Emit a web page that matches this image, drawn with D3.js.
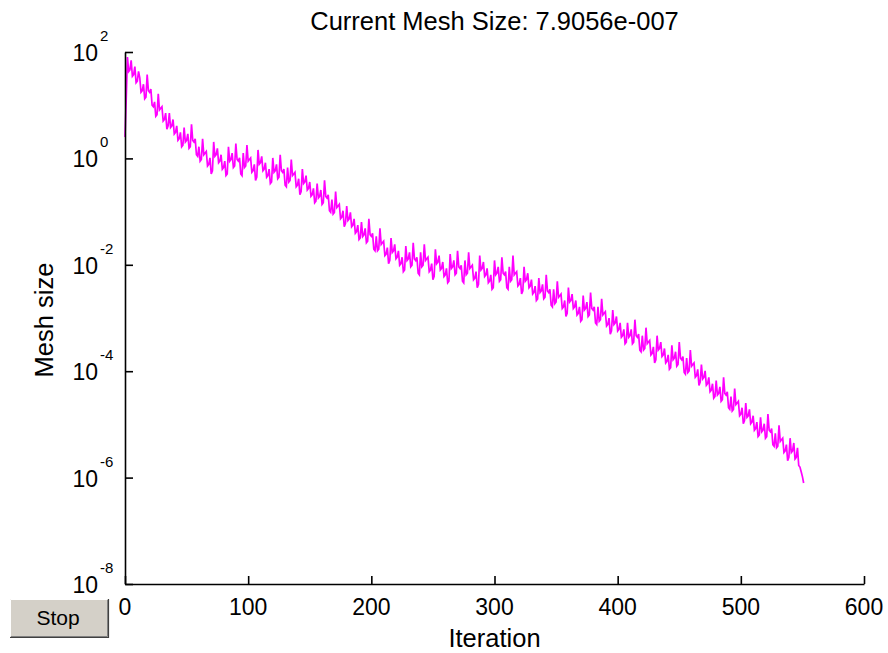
<!DOCTYPE html>
<html><head><meta charset="utf-8">
<script src="https://cdn.jsdelivr.net/npm/d3@7"></script>
<style>
body{margin:0;background:#fff}
svg{display:block}
text{font-family:"Liberation Sans",Arial,Helvetica,sans-serif;fill:#000}
</style>
</head><body>
<svg id="chart" width="888" height="653"></svg>
<script>
// ---- data ----
const titleText = "Current Mesh Size: 7.9056e-007";
const xLabelText = "Iteration";
const yLabelText = "Mesh size";
const buttonText = "Stop";
const xTickValues = [0, 100, 200, 300, 400, 500, 600];
const yTickExponents = [2, 0, -2, -4, -6, -8];
const meshUnit = 0.82896; // mesh size at exponent 0 (final value = unit * 2^-20 = 7.9056e-7)
// mesh size per iteration, as base-2 exponents relative to meshUnit (iteration = index), 12 per row
const meshExponent = [
  1.6, 4.0, 6.6, 5.7, 5.8, 6.4, 5.4, 5.5, 6.0, 5.0, 5.1, 5.7,
  5.3, 4.4, 4.5, 4.9, 4.0, 4.1, 5.5, 4.5, 4.4, 4.6, 3.6, 3.5,
  3.8, 2.9, 3.0, 4.3, 3.3, 3.4, 3.5, 2.6, 2.7, 3.1, 2.1, 2.3,
  3.1, 2.2, 2.3, 2.7, 1.8, 1.9, 2.3, 1.4, 1.5, 1.9, 1.0, 1.1,
  2.2, 1.3, 1.4, 1.8, 0.9, 1.0, 2.4, 1.4, 1.3, 1.5, 0.5, 0.4,
  1.0, 0.1, 0.2, 1.5, 0.5, 0.6, 0.7, -0.2, -0.1, 0.3, -0.7, -0.5,
  1.3, 0.4, 0.5, 0.9, 0.0, 0.1, 0.5, -0.4, -0.3, 0.1, -0.8, -0.7,
  1.0, 0.1, 0.2, 0.6, -0.3, -0.2, 1.2, 0.2, 0.1, 0.3, -0.7, -0.8,
  0.6, -0.3, -0.2, 1.1, 0.1, 0.2, 0.3, -0.6, -0.5, -0.1, -1.1, -0.9,
  0.8, -0.1, 0.0, 0.4, -0.5, -0.4, 0.0, -0.9, -0.8, -0.4, -1.3, -1.2,
  0.3, -0.6, -0.5, -0.1, -1.0, -0.9, 0.5, -0.5, -0.6, -0.4, -1.4, -1.5,
  -0.3, -1.2, -1.1, 0.2, -0.8, -0.7, -0.6, -1.5, -1.4, -1.0, -2.0, -1.8,
  -0.4, -1.3, -1.2, -0.8, -1.7, -1.6, -1.2, -2.1, -2.0, -1.6, -2.5, -2.4,
  -1.3, -2.2, -2.1, -1.7, -2.6, -2.5, -1.1, -2.1, -2.2, -2.0, -3.0, -3.1,
  -2.3, -3.2, -3.1, -1.8, -2.8, -2.7, -2.6, -3.5, -3.4, -3.0, -4.0, -3.8,
  -2.7, -3.6, -3.5, -3.1, -4.0, -3.9, -3.5, -4.4, -4.3, -3.9, -4.8, -4.7,
  -3.7, -4.6, -4.5, -4.1, -5.0, -4.9, -3.5, -4.5, -4.6, -4.4, -5.4, -5.5,
  -4.6, -5.5, -5.4, -4.1, -5.1, -5.0, -4.9, -5.8, -5.7, -5.3, -6.3, -6.1,
  -4.7, -5.6, -5.5, -5.1, -6.0, -5.9, -5.5, -6.4, -6.3, -5.9, -6.8, -6.7,
  -5.2, -6.1, -6.0, -5.6, -6.5, -6.4, -5.0, -6.0, -6.1, -5.9, -6.9, -7.0,
  -5.6, -6.5, -6.4, -5.1, -6.1, -6.0, -5.9, -6.8, -6.7, -6.3, -7.3, -7.1,
  -5.4, -6.3, -6.2, -5.8, -6.7, -6.6, -6.2, -7.1, -7.0, -6.6, -7.5, -7.4,
  -5.7, -6.6, -6.5, -6.1, -7.0, -6.9, -5.5, -6.5, -6.6, -6.4, -7.4, -7.5,
  -6.1, -7.0, -6.9, -5.6, -6.6, -6.5, -6.4, -7.3, -7.2, -6.8, -7.8, -7.6,
  -5.8, -6.7, -6.6, -6.2, -7.1, -7.0, -6.6, -7.5, -7.4, -7.0, -7.9, -7.8,
  -6.1, -7.0, -6.9, -6.5, -7.4, -7.3, -5.9, -6.9, -7.0, -6.8, -7.8, -7.9,
  -6.5, -7.4, -7.3, -5.8, -7.0, -6.9, -6.8, -7.7, -7.6, -7.2, -8.2, -8.0,
  -6.5, -7.4, -7.3, -6.9, -7.8, -7.7, -7.3, -8.2, -8.1, -7.7, -8.6, -8.5,
  -7.2, -8.1, -8.0, -7.6, -8.5, -8.4, -7.0, -8.0, -8.1, -7.9, -8.9, -9.0,
  -7.9, -8.8, -8.7, -7.4, -8.4, -8.3, -8.2, -9.1, -9.0, -8.6, -9.6, -9.4,
  -7.8, -8.7, -8.6, -8.2, -9.1, -9.0, -8.6, -9.5, -9.4, -9.0, -9.9, -9.8,
  -8.3, -9.2, -9.1, -8.7, -9.6, -9.5, -8.1, -9.1, -9.2, -9.0, -10.0, -10.1,
  -9.0, -9.9, -9.8, -8.5, -9.5, -9.4, -9.3, -10.2, -10.1, -9.7, -10.7, -10.5,
  -9.2, -10.1, -10.0, -9.6, -10.5, -10.4, -10.0, -10.9, -10.8, -10.4, -11.3, -11.2,
  -10.0, -10.9, -10.8, -10.4, -11.3, -11.2, -9.8, -10.8, -10.9, -10.7, -11.7, -11.8,
  -10.8, -11.7, -11.6, -10.3, -11.3, -11.2, -11.1, -12.0, -11.9, -11.5, -12.5, -12.3,
  -10.8, -11.7, -11.6, -11.2, -12.1, -12.0, -11.6, -12.5, -12.4, -12.0, -12.9, -12.8,
  -11.4, -12.3, -12.2, -11.8, -12.7, -12.6, -11.2, -12.2, -12.3, -12.1, -13.1, -13.2,
  -12.2, -13.1, -13.0, -11.7, -12.7, -12.6, -12.5, -13.4, -13.3, -12.9, -13.9, -13.7,
  -12.6, -13.5, -13.4, -13.0, -13.9, -13.8, -13.4, -14.3, -14.2, -13.8, -14.7, -14.6,
  -13.6, -14.5, -14.4, -14.0, -14.9, -14.8, -13.4, -14.4, -14.5, -14.3, -15.3, -15.4,
  -14.6, -15.5, -15.4, -14.1, -15.1, -15.0, -14.9, -15.8, -15.7, -15.3, -16.3, -16.1,
  -15.0, -15.9, -15.8, -15.4, -16.3, -16.2, -15.8, -16.7, -16.6, -16.2, -17.1, -17.0,
  -15.9, -16.8, -16.7, -16.3, -17.2, -17.1, -15.7, -16.7, -16.8, -16.6, -17.6, -17.7,
  -16.9, -17.8, -17.7, -16.4, -17.4, -17.3, -17.2, -18.1, -18.0, -17.6, -18.6, -18.4,
  -17.2, -18.1, -18.0, -17.5, -18.5, -18.4, -17.8, -18.9, -19.0, -19.3, -19.6, -20.0
];
const meshSize = meshExponent.map(e => meshUnit * Math.pow(2, e));

// ---- layout ----
const svg = d3.select("#chart");
const plot = {left: 125, right: 864, top: 52, bottom: 584};

const x = d3.scaleLinear().domain([0, 600]).range([plot.left, plot.right]);
const y = d3.scaleLog().domain([1e-8, 1e2]).range([plot.bottom, plot.top]);

// line
const line = d3.line()
  .x((d, i) => x(i))
  .y(d => y(d));
svg.append("path")
  .datum(meshSize)
  .attr("fill", "none")
  .attr("stroke", "#ff00ff")
  .attr("stroke-width", 1.7)
  .attr("d", line);

// axes
const xAxis = d3.axisBottom(x).tickValues(xTickValues).tickSizeInner(-8).tickSizeOuter(0).tickFormat("");
const yAxis = d3.axisLeft(y).tickValues(yTickExponents.map(e => Math.pow(10, e))).tickSizeInner(-8).tickSizeOuter(0).tickFormat("");

const gx = svg.append("g").attr("transform", `translate(0,${plot.bottom})`).call(xAxis);
const gy = svg.append("g").attr("transform", `translate(${plot.left},0)`).call(yAxis);
[gx, gy].forEach(g => {
  g.selectAll("path.domain").attr("stroke", "#000").attr("stroke-width", 1.6);
  g.selectAll(".tick line").attr("stroke", "#000").attr("stroke-width", 1.6);
});

// x tick labels
svg.append("g").selectAll("text").data(xTickValues).join("text")
  .attr("x", d => x(d)).attr("y", plot.bottom + 31)
  .attr("text-anchor", "middle").attr("font-size", 23)
  .text(d => d);

// y tick labels 10^e
const yl = svg.append("g").selectAll("g").data(yTickExponents).join("g");
yl.append("text")
  .attr("x", 98).attr("y", d => y(Math.pow(10, d)) + 9)
  .attr("text-anchor", "end").attr("font-size", 23)
  .text("10");
yl.append("text")
  .attr("x", 100).attr("y", d => y(Math.pow(10, d)) - 11)
  .attr("text-anchor", "start").attr("font-size", 15)
  .text(d => d);

// title and labels
svg.append("text").attr("x", (plot.left + plot.right) / 2).attr("y", 29.5)
  .attr("text-anchor", "middle").attr("font-size", 25.5).text(titleText);
svg.append("text").attr("x", (plot.left + plot.right) / 2).attr("y", 647)
  .attr("text-anchor", "middle").attr("font-size", 25.5).text(xLabelText);
svg.append("text").attr("transform", "translate(53,320) rotate(-90)")
  .attr("text-anchor", "middle").attr("font-size", 25.5).text(yLabelText);

// Stop button
const btn = svg.append("g");
btn.append("rect").attr("x", 10).attr("y", 599).attr("width", 98).attr("height", 38).attr("fill", "#d4d0c8");
btn.append("path").attr("d", "M10.5,636.5 V599.5 H107.5").attr("fill", "none").attr("stroke", "#ffffff").attr("stroke-width", 1);
btn.append("path").attr("d", "M10,637.5 H108.5 V599").attr("fill", "none").attr("stroke", "#404040").attr("stroke-width", 1.2);
btn.append("path").attr("d", "M11,636.5 H107.5 V600").attr("fill", "none").attr("stroke", "#808080").attr("stroke-width", 1);
btn.append("text").attr("x", 58).attr("y", 625).attr("text-anchor", "middle").attr("font-size", 21).text(buttonText);
</script>
</body></html>
